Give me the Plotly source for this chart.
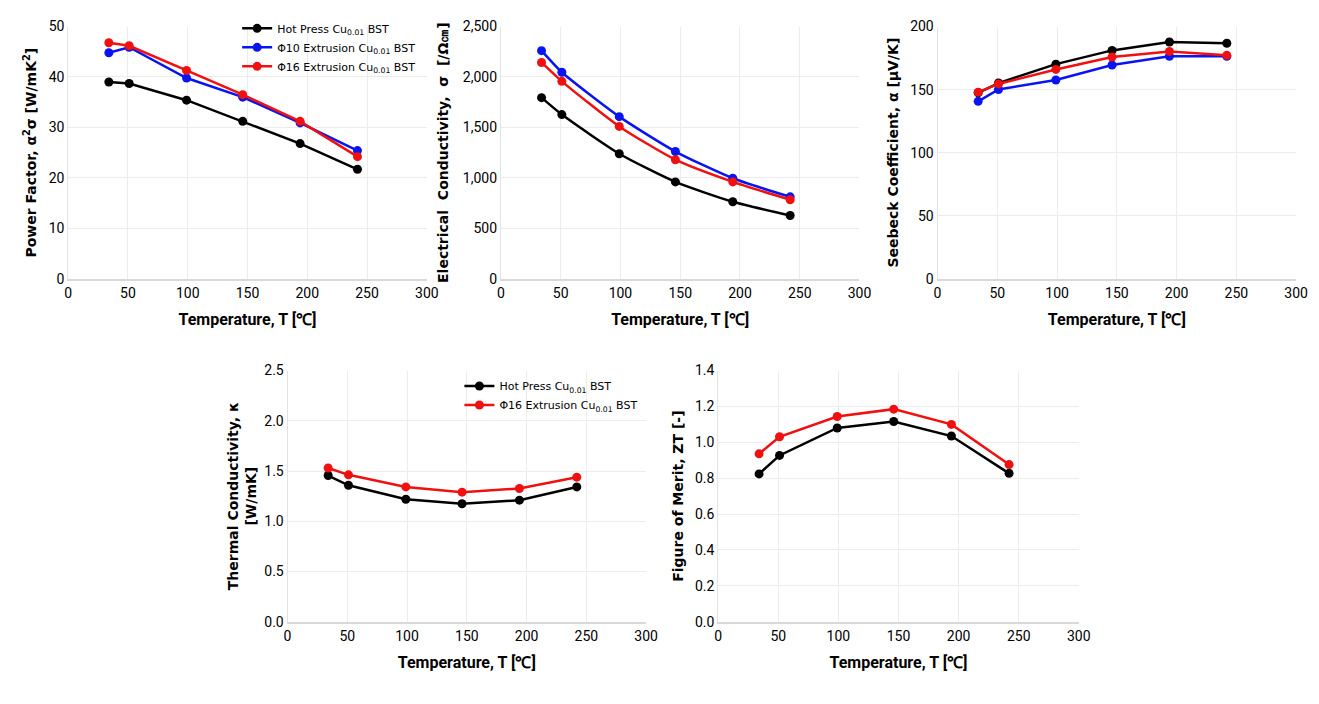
import plotly.graph_objects as go

# ---------------- data ----------------
temps = [34, 51, 99, 146, 194, 242]

series_names = ["Hot Press Cu<sub>0.01</sub> BST",
                "Φ10 Extrusion Cu<sub>0.01</sub> BST",
                "Φ16 Extrusion Cu<sub>0.01</sub> BST"]

pf_hot = [39.0, 38.7, 35.4, 31.2, 26.8, 21.7]
pf_phi10 = [44.8, 45.9, 39.8, 36.0, 30.9, 25.4]
pf_phi16 = [46.8, 46.2, 41.3, 36.5, 31.2, 24.2]

ec_hot = [1795, 1627, 1239, 960, 763, 627]
ec_phi10 = [2261, 2047, 1607, 1261, 996, 812]
ec_phi16 = [2144, 1957, 1510, 1180, 960, 783]

sb_hot = [147.5, 155.2, 170.2, 181.1, 187.8, 186.8]
sb_phi10 = [140.7, 150.1, 157.6, 169.5, 176.5, 176.5]
sb_phi16 = [148.0, 154.5, 166.0, 175.9, 180.3, 177.2]

tc_hot = [1.455, 1.358, 1.219, 1.174, 1.21, 1.342]
tc_phi16 = [1.53, 1.462, 1.342, 1.29, 1.326, 1.439]

zt_hot = [0.824, 0.927, 1.08, 1.116, 1.035, 0.827]
zt_phi16 = [0.936, 1.031, 1.144, 1.185, 1.10, 0.876]

colors = ["#000000", "#0a14f0", "#f01010"]

W, H = 1319, 704

def dx(a, b):
    return [a / W, b / W]

def dy(top, bottom):
    return [1 - bottom / H, 1 - top / H]

fig = go.Figure()

def add(xax, yax, ys, idx, legend=None, shape="linear"):
    fig.add_trace(go.Scatter(
        x=temps, y=ys, mode="lines+markers",
        name=series_names[idx],
        line=dict(color=colors[idx], width=2.5, shape=shape, smoothing=0.6),
        marker=dict(color=colors[idx], size=9, symbol="circle"),
        xaxis=xax, yaxis=yax,
        showlegend=legend is not None,
        legend=legend if legend else "legend",
    ))

# plot 1
add("x", "y", pf_hot, 0, "legend")
add("x", "y", pf_phi10, 1, "legend")
add("x", "y", pf_phi16, 2, "legend")
# plot 2
add("x2", "y2", ec_hot, 0, shape="spline")
add("x2", "y2", ec_phi10, 1, shape="spline")
add("x2", "y2", ec_phi16, 2, shape="spline")
# plot 3
add("x3", "y3", sb_hot, 0)
add("x3", "y3", sb_phi10, 1)
add("x3", "y3", sb_phi16, 2)
# plot 4
add("x4", "y4", tc_hot, 0, "legend2")
add("x4", "y4", tc_phi16, 2, "legend2")
# plot 5
add("x5", "y5", zt_hot, 0)
add("x5", "y5", zt_phi16, 2)

tick_font = dict(family="Liberation Sans Narrow, Roboto, sans-serif", size=14, color="#000")
xtitle_font = dict(family="Liberation Sans Narrow, Roboto, sans-serif", size=16, color="#000", weight="bold")
ytitle_font = dict(family="DejaVu Sans, Verdana, sans-serif", size=14, color="#000", weight="bold")

def xaxis(domain, anchor):
    return dict(domain=domain, anchor=anchor, range=[0, 300], dtick=50,
                showgrid=True, gridcolor="#ececec", gridwidth=1,
                showline=True, linecolor="#d9d9d9", linewidth=2,
                zeroline=False, ticks="", tickfont=tick_font,
                title=dict(text="Temperature, T [℃]", font=xtitle_font, standoff=14))

def yaxis(domain, anchor, rng, dtick, title, fmt=None, standoff=8):
    d = dict(domain=domain, anchor=anchor, range=rng, dtick=dtick,
             showgrid=True, gridcolor="#ececec", gridwidth=1,
             showline=True, linecolor="#e3e3e3", linewidth=1,
             zeroline=False, ticks="", tickfont=tick_font,
             title=dict(text=title, font=ytitle_font, standoff=standoff))
    if fmt:
        d["tickformat"] = fmt
    return d

top = dy(19, 277)
bot = dy(371, 628)

fig.update_layout(
    width=W, height=H, autosize=False,
    margin=dict(l=0, r=0, t=0, b=0),
    paper_bgcolor="white", plot_bgcolor="white",
    xaxis=xaxis(dx(65, 428), "y"),
    yaxis=yaxis(top, "x", [0, 50], 10, "Power Factor, α<sup>2</sup>σ [W/mK<sup>2</sup>]"),
    xaxis2=xaxis(dx(503, 866), "y2"),
    yaxis2=yaxis(top, "x2", [0, 2500], 500, "Electrical  Conductivity,  σ  [/Ω㎝]", fmt=",", standoff=10),
    xaxis3=xaxis(dx(945, 1308), "y3"),
    yaxis3=yaxis(top, "x3", [0, 200], 50, "Seebeck Coefficient, α [μV/K]"),
    xaxis4=xaxis(dx(287, 650), "y4"),
    yaxis4=yaxis(bot, "x4", [0, 2.5], 0.5, "Thermal Conductivity, κ<br>[W/mK]", fmt=".1f", standoff=4),
    xaxis5=xaxis(dx(723, 1088), "y5"),
    yaxis5=yaxis(bot, "x5", [0, 1.4], 0.2, "Figure of Merit, ZT [-]", fmt=".1f"),
    legend=dict(x=236 / W, y=1 - 6 / H, xanchor="left", yanchor="top",
                bgcolor="rgba(0,0,0,0)", tracegroupgap=0, itemwidth=30,
                font=dict(family="DejaVu Sans, sans-serif", size=11, color="#000")),
    legend2=dict(x=461 / W, y=1 - 372 / H, xanchor="left", yanchor="top",
                 bgcolor="rgba(0,0,0,0)", tracegroupgap=0, itemwidth=30,
                 font=dict(family="DejaVu Sans, sans-serif", size=11, color="#000")),
)

fig.write_html(
    "out.html",
    config={"displayModeBar": False},
    post_script="document.body.style.margin='0';document.body.style.overflow='hidden';",
)
